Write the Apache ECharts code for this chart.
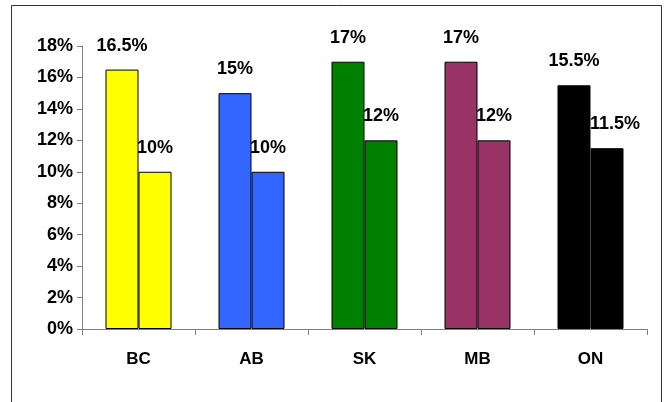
<!DOCTYPE html>
<html>
<head>
<meta charset="UTF-8">
<title>Provinces</title>
<style>
  * { margin: 0; padding: 0; }
  body { background: #fff; }
  #chart { width: 664px; height: 402px; }
</style>
</head>
<body>
<div id="chart"></div>
<script src="https://cdn.jsdelivr.net/npm/echarts@6/dist/echarts.min.js"></script>
<script>
  const categories = ['BC', 'AB', 'SK', 'MB', 'ON'];
  const firstValues = [16.5, 15, 17, 17, 15.5];
  const secondValues = [10, 10, 12, 12, 11.5];
  const barColors = ['#ffff00', '#3366ff', '#008000', '#993366', '#000000'];

  const chart = echarts.init(document.getElementById('chart'));

  const labelStyle = {
    show: true,
    position: 'top',
    distance: 15,
    formatter: '{c}%',
    color: '#000',
    fontFamily: 'Arial, "Liberation Sans", sans-serif',
    fontWeight: 'bold',
    fontSize: 18
  };

  function makeSeries(values, shiftLast) {
    return {
      type: 'bar',
      barWidth: 33,
      barGap: '0%',
      z: shiftLast ? 3 : 2,
      data: values.map((v, i) => {
        const item = {
          value: v,
          itemStyle: { color: barColors[i], borderColor: '#000', borderWidth: 1 }
        };
        // the ON label sits a little to the right in the original
        if (shiftLast && i === values.length - 1) item.label = { offset: [8, 0] };
        return item;
      }),
      label: labelStyle
    };
  }

  chart.setOption({
    animation: false,
    graphic: [{
      type: 'rect',
      shape: { x: 11.5, y: 5.5, width: 650, height: 430 },
      style: { fill: 'none', stroke: '#333', lineWidth: 1 },
      silent: true
    }],
    grid: { left: 82, right: 17, top: 46, bottom: 73 },
    xAxis: {
      type: 'category',
      data: categories,
      axisLine: { lineStyle: { color: '#808080', width: 1 } },
      axisTick: { show: true, length: 6, lineStyle: { color: '#808080' } },
      axisLabel: {
        margin: 22,
        color: '#000',
        fontFamily: 'Arial, "Liberation Sans", sans-serif',
        fontWeight: 'bold',
        fontSize: 17
      }
    },
    yAxis: {
      type: 'value',
      min: 0,
      max: 18,
      interval: 2,
      splitLine: { show: false },
      axisLine: { show: true, lineStyle: { color: '#808080', width: 1 } },
      axisTick: { show: true, length: 5, lineStyle: { color: '#808080' } },
      axisLabel: {
        formatter: '{value}%',
        margin: 9,
        color: '#000',
        fontFamily: 'Arial, "Liberation Sans", sans-serif',
        fontWeight: 'bold',
        fontSize: 18
      }
    },
    series: [makeSeries(firstValues, false), makeSeries(secondValues, true)]
  });
</script>
</body>
</html>
